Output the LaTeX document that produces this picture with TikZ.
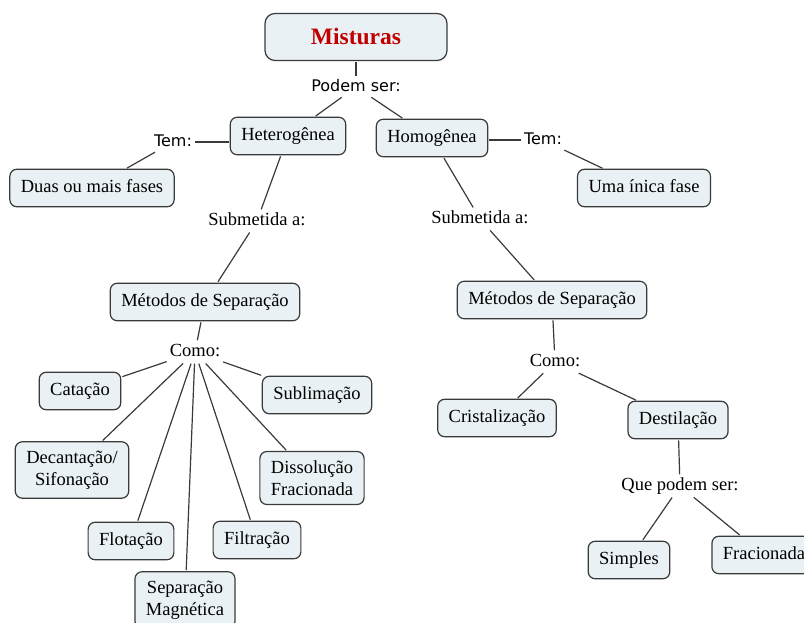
\documentclass[tikz,border=0pt]{standalone}
\usepackage{fontspec}
\setmainfont{Liberation Serif}
\newfontfamily\sansf{DejaVu Sans}
\definecolor{boxfill}{HTML}{E9F1F5}
\definecolor{boxline}{HTML}{3A3A3A}
\definecolor{titlered}{HTML}{C00000}
\begin{document}
\begin{tikzpicture}[x=1pt,y=-1pt,
  conceptbase/.style={draw=boxline, fill=boxfill, line width=1.2pt, rounded corners=7pt,
    font=\fontsize{18.5}{22}\selectfont, inner xsep=11pt, align=center},
  concept/.style={conceptbase, inner ysep=10pt, text height=13pt, text depth=4.5pt},
  concept2/.style={conceptbase, inner ysep=9pt},
  linklbl/.style={font=\fontsize{18.5}{22}\selectfont, inner sep=2pt, text height=13pt, text depth=4pt},
  sanslbl/.style={font=\sansf\fontsize{16}{19}\selectfont, inner sep=2pt, text height=12pt, text depth=3pt},
  conn/.style={draw=boxline, line width=1.2pt, shorten <=1pt, shorten >=1pt}]
\useasboundingbox (0,0) rectangle (804,623);

% concepts
\node[conceptbase, minimum width=182pt, minimum height=47pt, rounded corners=10pt,
      font=\bfseries\fontsize{23.5}{26}\selectfont, text=titlered,
      text height=20pt, text depth=5pt, inner ysep=2pt] (mist) at (356,37) {Misturas};
\node[concept] (het) at (288,136) {Heterogênea};
\node[concept] (hom) at (432,138) {Homogênea};
\node[concept] (duas) at (92,188) {Duas ou mais fases};
\node[concept] (uma) at (644,188) {Uma ínica fase};
\node[concept] (metL) at (205,302) {Métodos de Separação};
\node[concept] (metR) at (552,300) {Métodos de Separação};
\node[concept] (cat) at (80,391) {Catação};
\node[concept] (sub) at (317,395) {Sublimação};
\node[concept2] (dec) at (72,470) {Decantação/\\Sifonação};
\node[concept2] (dis) at (312,478) {Dissolução\\Fracionada};
\node[concept] (flo) at (131,541) {Flotação};
\node[concept] (fil) at (257,540) {Filtração};
\node[concept2] (mag) at (185,600) {Separação\\Magnética};
\node[concept] (cri) at (497,418) {Cristalização};
\node[concept] (des) at (678,420) {Destilação};
\node[concept] (sim) at (629,560) {Simples};
\node[concept] (fra) at (764,555) {Fracionada};

% link labels
\node[sanslbl] (podem) at (356,87) {Podem ser:};
\node[sanslbl] (temL) at (173,142) {Tem:};
\node[sanslbl] (temR) at (543,140) {Tem:};
\node[linklbl] (subL) at (257,221) {Submetida a:};
\node[linklbl] (subR) at (480,219) {Submetida a:};
\node[linklbl] (comoL) at (195,352) {Como:};
\node[linklbl] (comoR) at (555,362) {Como:};
\node[linklbl] (que) at (680,486) {Que podem ser:};

% connectors
\draw[conn] (mist) -- (podem);
\draw[conn] (podem) -- (het);
\draw[conn] (podem) -- (hom);
\draw[conn] (het.west |- temL.east) -- (temL.east);
\draw[conn] (temL) -- (duas);
\draw[conn] (hom.east |- temR.west) -- (temR.west);
\draw[conn] (temR) -- (uma);
\draw[conn] (het) -- (subL);
\draw[conn] (subL) -- (metL);
\draw[conn] (hom) -- (subR);
\draw[conn] (subR) -- (metR);
\draw[conn] (metL) -- (comoL);
\draw[conn] (comoL) -- (cat);
\draw[conn] (comoL) -- (sub);
\draw[conn] (comoL) -- (dec);
\draw[conn] (comoL) -- (dis);
\draw[conn] (comoL) -- (flo);
\draw[conn] (comoL) -- (fil);
\draw[conn] (comoL) -- (mag);
\draw[conn] (metR) -- (comoR);
\draw[conn] (comoR) -- (cri);
\draw[conn] (comoR) -- (des);
\draw[conn] (des) -- (que);
\draw[conn] (que) -- (sim);
\draw[conn] (que) -- (fra);
\end{tikzpicture}
\end{document}
